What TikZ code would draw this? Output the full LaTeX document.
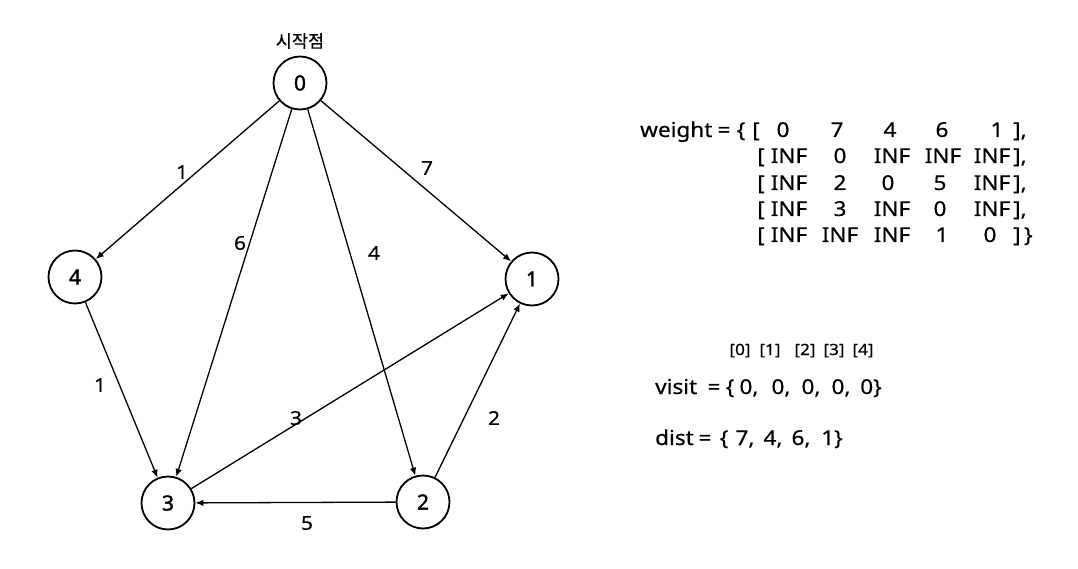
\documentclass[tikz,border=0pt]{standalone}
\usepackage{fontspec}
\setmainfont{Noto Sans}[FakeStretch=1.1,FakeBold=0.5]
\newfontfamily\krfont{Noto Sans CJK KR}[FakeBold=0.5]
\newfontfamily\numfont{Noto Sans}[FakeBold=1.6]
\usetikzlibrary{arrows.meta}
\begin{document}
\begin{tikzpicture}[x=1pt,y=-1pt,
  vertex/.style={circle, draw, line width=1.8pt, minimum size=53pt, inner sep=0pt, font=\numfont\fontsize{21}{25}\selectfont},
  edge/.style={line width=1.3pt, -{Latex[length=8pt,width=6.5pt]}},
  wl/.style={font=\fontsize{19}{22}\selectfont, inner sep=0pt},
  mt/.style={font=\fontsize{20.5}{25}\selectfont, anchor=base, inner sep=0pt},
  mtw/.style={font=\fontsize{20.5}{25}\selectfont, anchor=base west, inner sep=0pt},
  sm/.style={font=\fontsize{15.5}{19}\selectfont, anchor=base, inner sep=0pt}]
\useasboundingbox (0,0) rectangle (1078,569);
% vertices
\node[vertex] (n0) at (300,83) {0};
\node[vertex] (n4) at (75,277) {4};
\node[vertex] (n1) at (532,279) {1};
\node[vertex] (n3) at (168,503) {3};
\node[vertex] (n2) at (423,502) {2};
\node[font=\krfont\fontsize{17.5}{20}\selectfont, inner sep=0pt] (start) at (300,41) {시작점};
% edges
\draw[edge] (n0) -- (n4);
\draw[edge] (n0) -- (n3);
\draw[edge] (n0) -- (n2);
\draw[edge] (n0) -- (n1);
\draw[edge] (n4) -- (n3);
\draw[edge] (n2) -- (n1);
\draw[edge] (n3) -- (n1);
\draw[edge] (n2) -- (n3);
% edge labels
\node[wl] (l04) at (182,172) {1};
\node[wl] (l03) at (240,243) {6};
\node[wl] (l02) at (374,253) {4};
\node[wl] (l01) at (427,168) {7};
\node[wl] (l43) at (100,385) {1};
\node[wl] (l31) at (296,418) {3};
\node[wl] (l21) at (494,418) {2};
\node[wl] (l23) at (307,523) {5};
% weight matrix
\node[mtw] (wt) at (640,137) {weight};
\node[mt] (weq) at (724,137) {=};
\node[mt] (wbr) at (741,137) {\{};
\node[mt] (as) at (756,137) {[};
\node[mt] (a0) at (783,137) {0};
\node[mt] (a1) at (837,137) {7};
\node[mt] (a2) at (890,137) {4};
\node[mt] (a3) at (942,137) {6};
\node[mt] (a4) at (997,137) {1};
\node[mtw] (ae) at (1013,137) {],};
\node[mt] (bs) at (761,163) {[};
\node[mt] (b0) at (789,163) {INF};
\node[mt] (b1) at (840,163) {0};
\node[mt] (b2) at (892,163) {INF};
\node[mt] (b3) at (943,163) {INF};
\node[mt] (b4) at (992,163) {INF};
\node[mtw] (be) at (1013,163) {],};
\node[mt] (cs) at (761,190) {[};
\node[mt] (c0) at (789,190) {INF};
\node[mt] (c1) at (840,190) {2};
\node[mt] (c2) at (888,190) {0};
\node[mt] (c3) at (940,190) {5};
\node[mt] (c4) at (992,190) {INF};
\node[mtw] (ce) at (1013,190) {],};
\node[mt] (ds) at (761,216) {[};
\node[mt] (d0) at (789,216) {INF};
\node[mt] (d1) at (840,216) {3};
\node[mt] (d2) at (892,216) {INF};
\node[mt] (d3) at (940,216) {0};
\node[mt] (d4) at (992,216) {INF};
\node[mtw] (de) at (1013,216) {],};
\node[mt] (es) at (761,242) {[};
\node[mt] (e0) at (789,242) {INF};
\node[mt] (e1) at (840,242) {INF};
\node[mt] (e2) at (892,242) {INF};
\node[mt] (e3) at (942,242) {1};
\node[mt] (e4) at (990,242) {0};
\node[mtw] (ee) at (1013,242) {]\,\}};
% indices
\node[sm] (i0) at (740,355) {[0]};
\node[sm] (i1) at (770,355) {[1]};
\node[sm] (i2) at (805,355) {[2]};
\node[sm] (i3) at (834,355) {[3]};
\node[sm] (i4) at (863,355) {[4]};
% visit
\node[mtw] (visit) at (655,394) {visit};
\node[mt] (veq) at (714,394) {=};
\node[mt] (vbr) at (730,394) {\{};
\node[mt] (v0) at (749,394) {0,};
\node[mt] (v1) at (781,394) {0,};
\node[mt] (v2) at (811,394) {0,};
\node[mt] (v3) at (841,394) {0,};
\node[mt] (v4) at (871,394) {0\}};
% dist
\node[mtw] (dist) at (655,445) {dist};
\node[mt] (deq) at (705,445) {=};
\node[mt] (dbr) at (724,445) {\{};
\node[mt] (x0) at (745,445) {7,};
\node[mt] (x1) at (773,445) {4,};
\node[mt] (x2) at (801,445) {6,};
\node[mt] (x3) at (832,445) {1\}};
\end{tikzpicture}
\end{document}
